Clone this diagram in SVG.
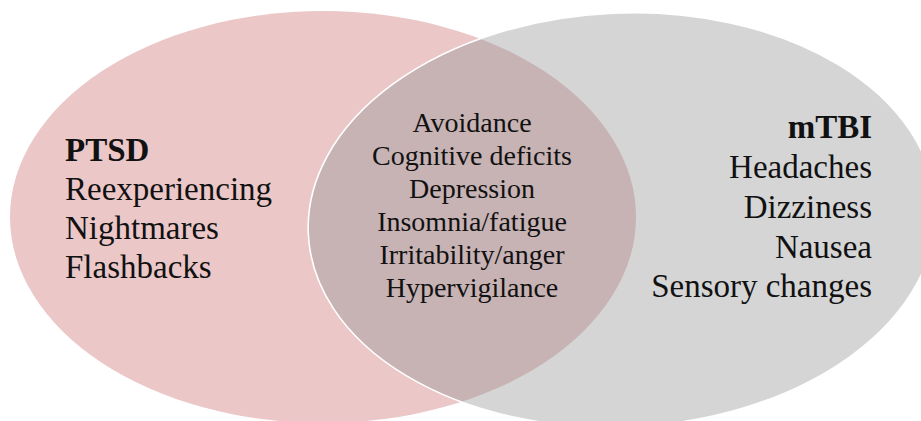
<svg xmlns="http://www.w3.org/2000/svg" width="921" height="421" viewBox="0 0 921 421">
  <style>
    .lbl { font-family: "Liberation Serif", "Times New Roman", serif; fill: #111111; }
    .side { font-size: 33px; }
    .mid { font-size: 28px; text-anchor: middle; }
    .head { font-weight: bold; }
    .right { text-anchor: end; }
  </style>
  <defs>
    <ellipse id="shapePTSD" cx="323" cy="217" rx="313" ry="206"/>
    <ellipse id="shapeTBI" cx="622" cy="220" rx="314" ry="207" transform="rotate(-2.5 622 220)"/>
    <clipPath id="clipTBI">
      <use href="#shapeTBI"/>
    </clipPath>
  </defs>

  <rect width="921" height="421" fill="#ffffff"/>

  <!-- PTSD circle -->
  <g id="ptsd">
    <use href="#shapePTSD" fill="#ebc7c8"/>
    <text class="lbl side head" x="65" y="161">PTSD</text>
    <text class="lbl side" x="65" y="200">Reexperiencing</text>
    <text class="lbl side" x="65" y="239">Nightmares</text>
    <text class="lbl side" x="65" y="278">Flashbacks</text>
  </g>

  <!-- mTBI circle -->
  <g id="mtbi">
    <use href="#shapeTBI" fill="#d5d5d5"/>
    <text class="lbl side head right" x="872" y="138">mTBI</text>
    <text class="lbl side right" x="872" y="178">Headaches</text>
    <text class="lbl side right" x="872" y="218">Dizziness</text>
    <text class="lbl side right" x="872" y="258">Nausea</text>
    <text class="lbl side right" x="872" y="297">Sensory changes</text>
  </g>

  <!-- shared symptoms -->
  <g id="overlap">
    <use href="#shapePTSD" fill="#c7b2b4" clip-path="url(#clipTBI)"/>
    <use href="#shapeTBI" fill="none" stroke="#ffffff" stroke-width="1.6"/>
    <text class="lbl mid" x="472" y="132">Avoidance</text>
    <text class="lbl mid" x="472" y="165">Cognitive deficits</text>
    <text class="lbl mid" x="472" y="198">Depression</text>
    <text class="lbl mid" x="472" y="231">Insomnia/fatigue</text>
    <text class="lbl mid" x="472" y="264">Irritability/anger</text>
    <text class="lbl mid" x="472" y="297">Hypervigilance</text>
  </g>

  <g id="connectors"/>
</svg>
